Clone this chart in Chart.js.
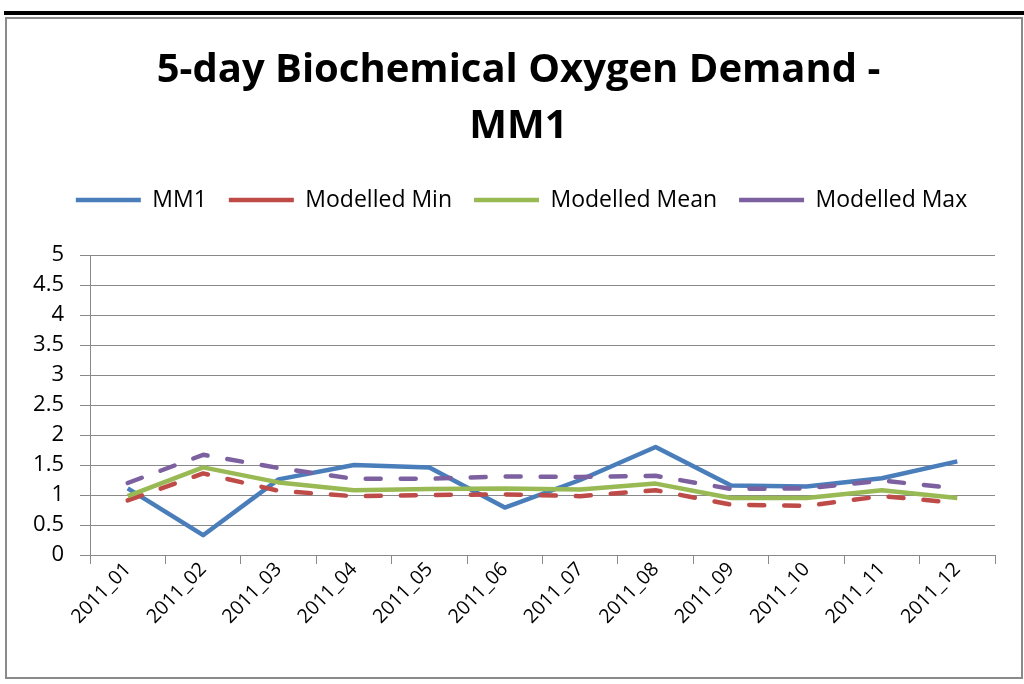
<!DOCTYPE html>
<html>
<head>
<meta charset="utf-8">
<script src="https://cdn.jsdelivr.net/npm/chart.js@4.4.0/dist/chart.umd.min.js"></script>
<style>
  html, body { margin: 0; padding: 0; background: #ffffff; }
  #wrap { position: relative; width: 1024px; height: 684px; overflow: hidden; }
  #topbar { position: absolute; left: 4px; top: 11px; width: 1020px; height: 4px; background: #000; }
  #frame { position: absolute; left: 5px; top: 17px; width: 1018px; height: 662px; box-sizing: border-box; border: 2px solid #8a8a8a; }
  canvas { position: absolute; left: 0; top: 0; }
</style>
</head>
<body>
<div id="wrap">
  <div id="topbar"></div>
  <div id="frame"></div>
  <canvas id="c" width="1024" height="684"></canvas>
</div>
<script>
const titleLines = ['5-day Biochemical Oxygen Demand -', 'MM1'];
const categories = ['2011_01', '2011_02', '2011_03', '2011_04', '2011_05', '2011_06',
                    '2011_07', '2011_08', '2011_09', '2011_10', '2011_11', '2011_12'];
const seriesNames = ['MM1', 'Modelled Min', 'Modelled Mean', 'Modelled Max'];
const mm1          = [1.11, 0.33, 1.26, 1.50, 1.46, 0.79, 1.25, 1.80, 1.16, 1.14, 1.28, 1.56];
const modelledMin  = [0.91, 1.36, 1.07, 0.98, 1.00, 1.01, 0.98, 1.08, 0.84, 0.82, 0.98, 0.87];
const modelledMean = [0.98, 1.46, 1.21, 1.08, 1.10, 1.11, 1.09, 1.19, 0.95, 0.95, 1.08, 0.95];
const modelledMax  = [1.20, 1.67, 1.45, 1.27, 1.27, 1.31, 1.30, 1.32, 1.10, 1.11, 1.24, 1.11];
const yMin = 0, yMax = 5, yStep = 0.5;

const FONT = "'Open Sans', 'Liberation Sans', sans-serif";
const GRID = '#898989';

// layout helpers: extra space under the legend, and nudge title/legend to the right
const layoutTweaks = {
  id: 'layoutTweaks',
  beforeLayout(chart) {
    const lg = chart.legend;
    if (lg && !lg._spacerPatched) {
      const f = lg.fit;
      lg.fit = function () { f.call(this); this.height += 33.5; };
      lg._spacerPatched = true;
    }
  },
  afterLayout(chart) {
    const t = chart.titleBlock, lg = chart.legend;
    if (t) { t.left += 8; t.right += 8; }
    if (lg) { lg.left += 11; lg.right += 11; }
  }
};

function ds(label, data, color, dashed, order) {
  return {
    label, data,
    borderColor: color, backgroundColor: color,
    borderWidth: 4.5,
    borderDash: dashed ? [15, 20] : [],
    borderCapStyle: dashed ? 'round' : 'butt',
    borderJoinStyle: 'round',
    pointRadius: 0, pointHoverRadius: 0,
    tension: 0, fill: false,
    pointStyle: 'line',
    order
  };
}

new Chart(document.getElementById('c'), {
  type: 'line',
  data: {
    labels: categories,
    datasets: [
      ds(seriesNames[0], mm1, '#4a7ebb', false, 4),
      ds(seriesNames[1], modelledMin, '#be4b48', true, 3),
      ds(seriesNames[2], modelledMean, '#98b954', false, 2),
      ds(seriesNames[3], modelledMax, '#7d60a0', true, 1)
    ]
  },
  plugins: [layoutTweaks],
  options: {
    responsive: false,
    animation: false,
    devicePixelRatio: 1,
    layout: { padding: { left: 26, right: 29, top: 0, bottom: 0 } },
    plugins: {
      title: {
        display: true,
        text: titleLines,
        color: '#000',
        font: { family: FONT, size: 40, weight: 'bold', lineHeight: 56 / 40 },
        padding: { top: 43, bottom: 11.5 }
      },
      legend: {
        display: true,
        position: 'top',
        labels: {
          usePointStyle: true,
          pointStyleWidth: 65,
          padding: 22,
          color: '#000',
          font: { family: FONT, size: 23, lineHeight: 1 },
          sort: (a, b) => a.datasetIndex - b.datasetIndex
        }
      },
      tooltip: { enabled: false }
    },
    scales: {
      x: {
        offset: true,
        afterFit(scale) { scale.height = 129; },
        grid: { offset: true, drawOnChartArea: false, drawTicks: true, tickLength: 9, color: GRID, lineWidth: 1 },
        border: { display: true, color: GRID, width: 1 },
        ticks: { maxRotation: 46, minRotation: 46, autoSkip: false, padding: -6, color: '#000',
                 font: { family: FONT, size: 19.5 } }
      },
      y: {
        min: yMin, max: yMax,
        afterFit(scale) { scale.width = 64; },
        grid: { drawOnChartArea: true, drawTicks: true, tickLength: 10, color: GRID, lineWidth: 1 },
        border: { display: true, color: GRID, width: 1 },
        ticks: { stepSize: yStep, padding: 16, color: '#000', font: { family: FONT, size: 22 },
                 callback: (v) => String(v) }
      }
    }
  }
});
</script>
</body>
</html>
